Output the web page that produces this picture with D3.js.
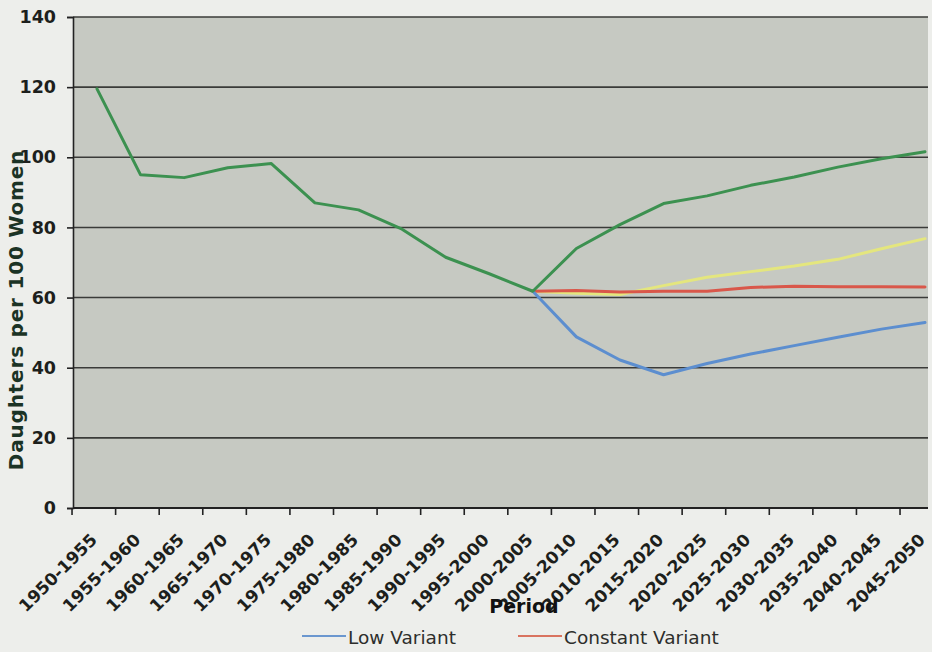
<!DOCTYPE html>
<html>
<head>
<meta charset="utf-8">
<script src="https://cdn.jsdelivr.net/npm/d3@7"></script>
<style>
  html, body { margin: 0; padding: 0; background: #ecedea; }
  svg { display: block; }
</style>
</head>
<body>
<svg id="chart" width="932" height="652"></svg>
<script>
// Five-year periods on the horizontal axis
const periods = [
  "1950-1955", "1955-1960", "1960-1965", "1965-1970", "1970-1975",
  "1975-1980", "1980-1985", "1985-1990", "1990-1995", "1995-2000",
  "2000-2005", "2005-2010", "2010-2015", "2015-2020", "2020-2025",
  "2025-2030", "2030-2035", "2035-2040", "2040-2045", "2045-2050"
];

// Daughters per 100 women; projections branch from 2000-2005
const highVariant = [119.5, 95, 94.2, 97, 98.2, 87, 85, 79.5, 71.5, 66.8,
                     61.8, 74, 80.8, 86.8, 89, 92, 94.4, 97.2, 99.6, 101.6];
const mediumVariant = [null, null, null, null, null, null, null, null, null, null,
                       61.8, 61.2, 60.9, 63.4, 65.8, 67.4, 69, 70.9, 73.9, 76.8];
const constantVariant = [null, null, null, null, null, null, null, null, null, null,
                         61.8, 62, 61.6, 61.8, 61.8, 62.9, 63.2, 63.1, 63.1, 63];
const lowVariant = [null, null, null, null, null, null, null, null, null, null,
                    61.8, 48.8, 42.2, 38, 41.2, 43.9, 46.3, 48.7, 51, 52.9];

const yTicks = [0, 20, 40, 60, 80, 100, 120, 140];

const legendItems = [
  { label: "Low Variant", color: "#6b97cf" },
  { label: "Constant Variant", color: "#d9735f" }
];

const svg = d3.select("#chart");
const W = 932, H = 652;
const FONT = "'DejaVu Sans', Verdana, sans-serif";

svg.append("rect").attr("width", W).attr("height", H).attr("fill", "#edeeeb");

const plot = { left: 73, right: 928, top: 17, bottom: 508 };

const x = d3.scalePoint().domain(periods).range([97, 925]);
const y = d3.scaleLinear().domain([0, 140]).range([plot.bottom, plot.top]);
const tickShift = x.step() * 0.573;

// plot background
svg.append("rect")
  .attr("x", plot.left).attr("y", plot.top)
  .attr("width", plot.right - plot.left).attr("height", plot.bottom - plot.top)
  .attr("fill", "#c6c9c2");

// horizontal gridlines
svg.append("g").selectAll("line")
  .data(yTicks.filter(v => v > 0))
  .join("line")
  .attr("x1", plot.left).attr("x2", plot.right)
  .attr("y1", d => y(d)).attr("y2", d => y(d))
  .attr("stroke", "#3a3b39").attr("stroke-width", 1.6);

// y axis
const yAxis = svg.append("g")
  .attr("transform", `translate(${plot.left},0)`)
  .call(d3.axisLeft(y).tickValues(yTicks).tickSize(6).tickPadding(11));
yAxis.select(".domain").attr("stroke", "#222").attr("stroke-width", 1.6);
yAxis.selectAll(".tick line").attr("stroke", "#222").attr("stroke-width", 1.6);
yAxis.selectAll(".tick text")
  .attr("font-family", FONT)
  .attr("font-weight", "bold")
  .attr("font-size", 17.5)
  .attr("fill", "#1d1f1c");

// x axis line and ticks (ticks sit between categories)
svg.append("line")
  .attr("x1", plot.left).attr("x2", plot.right)
  .attr("y1", plot.bottom).attr("y2", plot.bottom)
  .attr("stroke", "#222").attr("stroke-width", 2);

svg.append("g").selectAll("line")
  .data(periods)
  .join("line")
  .attr("x1", d => x(d) - tickShift).attr("x2", d => x(d) - tickShift)
  .attr("y1", plot.bottom).attr("y2", plot.bottom + 7)
  .attr("stroke", "#222").attr("stroke-width", 1.6);

svg.append("g").selectAll("text")
  .data(periods)
  .join("text")
  .attr("transform", d => `translate(${x(d) + 1},541) rotate(-45)`)
  .attr("text-anchor", "end")
  .attr("font-family", FONT)
  .attr("font-weight", "bold")
  .attr("font-size", 17)
  .attr("fill", "#1d1f1c")
  .text(d => d);

// series lines
const line = d3.line()
  .defined(d => d.v !== null)
  .x(d => x(d.p))
  .y(d => y(d.v));

const toPts = arr => periods.map((p, i) => ({ p, v: arr[i] }));

const series = [
  { values: mediumVariant, color: "#e4e67e" },
  { values: constantVariant, color: "#d9574a" },
  { values: lowVariant, color: "#5c8ecf" },
  { values: highVariant, color: "#3c9150" }
];

svg.append("g").selectAll("path")
  .data(series)
  .join("path")
  .attr("d", s => line(toPts(s.values)))
  .attr("fill", "none")
  .attr("stroke", s => s.color)
  .attr("stroke-width", 3)
  .attr("stroke-linejoin", "round")
  .attr("stroke-linecap", "round");

// axis titles
svg.append("text")
  .attr("transform", "translate(23,310) rotate(-90)")
  .attr("text-anchor", "middle")
  .attr("font-family", FONT)
  .attr("font-weight", "bold")
  .attr("font-size", 20)
  .attr("letter-spacing", 0.8)
  .attr("fill", "#1b3325")
  .text("Daughters per 100 Women");

svg.append("text")
  .attr("x", 524).attr("y", 613)
  .attr("text-anchor", "middle")
  .attr("font-family", FONT)
  .attr("font-weight", "bold")
  .attr("font-size", 19)
  .attr("fill", "#111")
  .text("Period");

// legend
const legendX = [302, 518];
const lg = svg.append("g").selectAll("g")
  .data(legendItems)
  .join("g")
  .attr("transform", (d, i) => `translate(${legendX[i]},636)`);
lg.append("line")
  .attr("x1", 0).attr("x2", 44)
  .attr("stroke", d => d.color).attr("stroke-width", 2);
lg.append("text")
  .attr("x", 46).attr("y", 7.5)
  .attr("font-family", FONT)
  .attr("font-size", 18.5)
  .attr("fill", "#2d2e2c")
  .text(d => d.label);
</script>
</body>
</html>
